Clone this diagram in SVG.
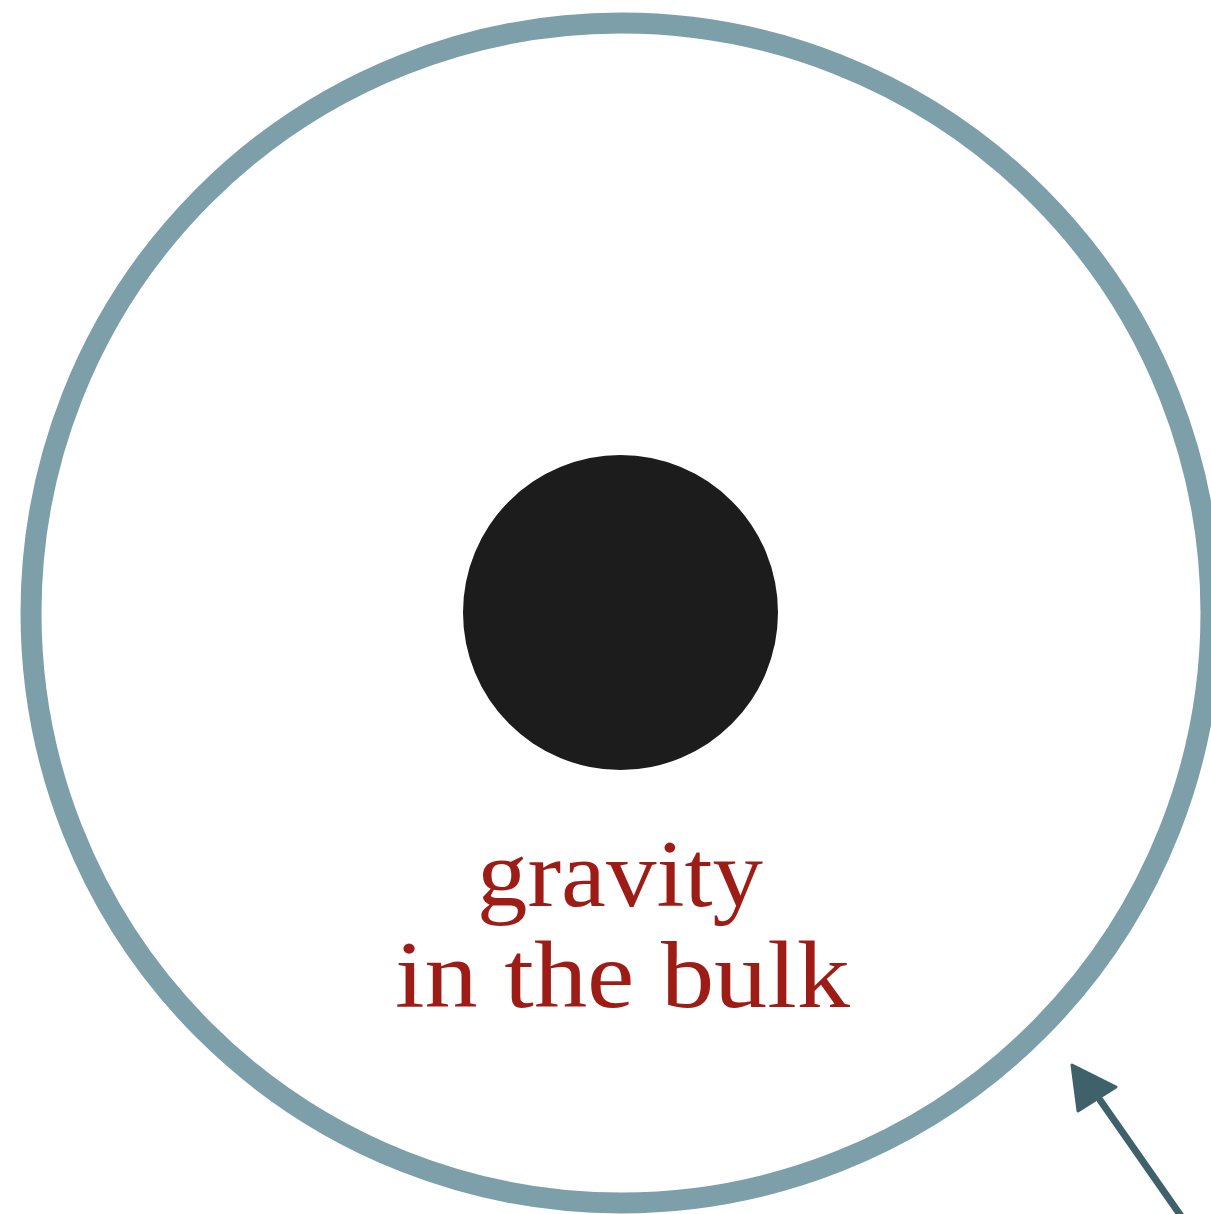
<svg xmlns="http://www.w3.org/2000/svg" width="1211" height="1214" viewBox="0 0 1211 1214">
<style>
.lbl{font-family:"Liberation Serif","DejaVu Serif",serif;font-size:95px;fill:#9e1c16;text-anchor:middle}
</style>
<rect width="1211" height="1214" fill="#fff"/>
<g id="boundary"><circle cx="621" cy="613" r="590" fill="none" stroke="#7c9fa9" stroke-width="21"/></g>
<g id="blackhole"><circle cx="620.5" cy="612.5" r="157.5" fill="#1c1c1c"/></g>
<g id="label">
<text class="lbl" x="620" y="906" textLength="286" lengthAdjust="spacingAndGlyphs">gravity</text>
<text class="lbl" x="622.5" y="1007" textLength="455" lengthAdjust="spacingAndGlyphs">in the bulk</text>
</g>
<g id="connectors">
<line x1="1181" y1="1216" x2="1100" y2="1100" stroke="#3e616a" stroke-width="7" stroke-linecap="round"/>
<polygon points="1072,1065 1116,1087 1078,1111" fill="#3e616a" stroke="#3e616a" stroke-width="3" stroke-linejoin="round"/>
</g>
</svg>
